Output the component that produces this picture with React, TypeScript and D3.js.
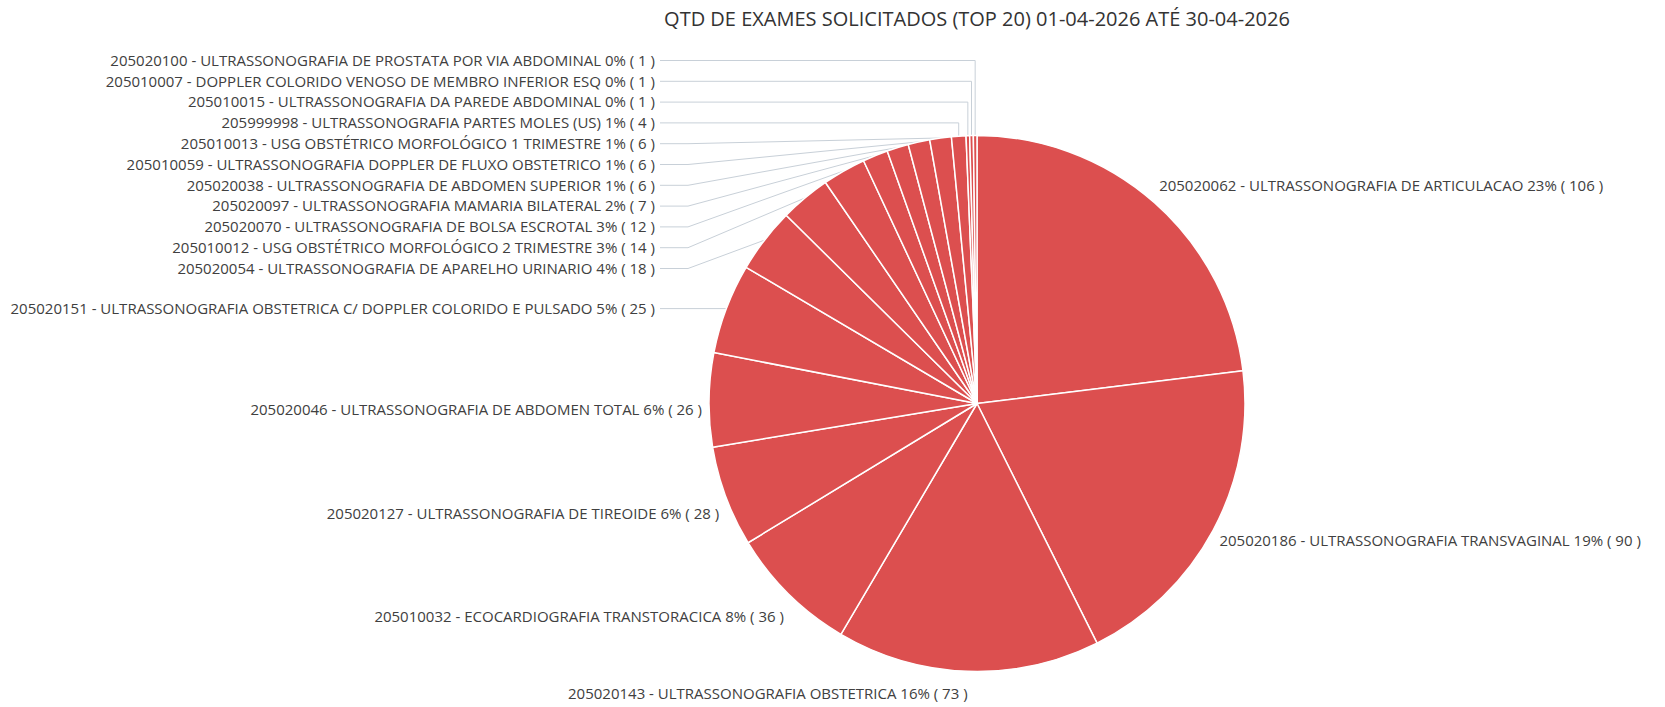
import React from 'react';
import * as d3 from 'd3';

const codes = [
  '205020062', '205020186', '205020143', '205010032', '205020127', '205020046',
  '205020151', '205020054', '205010012', '205020070', '205020097', '205020038',
  '205010059', '205010013', '205999998', '205010015', '205010007', '205020100',
];
const names = [
  'ULTRASSONOGRAFIA DE ARTICULACAO',
  'ULTRASSONOGRAFIA TRANSVAGINAL',
  'ULTRASSONOGRAFIA OBSTETRICA',
  'ECOCARDIOGRAFIA TRANSTORACICA',
  'ULTRASSONOGRAFIA DE TIREOIDE',
  'ULTRASSONOGRAFIA DE ABDOMEN TOTAL',
  'ULTRASSONOGRAFIA OBSTETRICA C/ DOPPLER COLORIDO E PULSADO',
  'ULTRASSONOGRAFIA DE APARELHO URINARIO',
  'USG OBSTÉTRICO MORFOLÓGICO 2 TRIMESTRE',
  'ULTRASSONOGRAFIA DE BOLSA ESCROTAL',
  'ULTRASSONOGRAFIA MAMARIA BILATERAL',
  'ULTRASSONOGRAFIA DE ABDOMEN SUPERIOR',
  'ULTRASSONOGRAFIA DOPPLER DE FLUXO OBSTETRICO',
  'USG OBSTÉTRICO MORFOLÓGICO 1 TRIMESTRE',
  'ULTRASSONOGRAFIA PARTES MOLES (US)',
  'ULTRASSONOGRAFIA DA PAREDE ABDOMINAL',
  'DOPPLER COLORIDO VENOSO DE MEMBRO INFERIOR ESQ',
  'ULTRASSONOGRAFIA DE PROSTATA POR VIA ABDOMINAL',
];
const values = [106, 90, 73, 36, 28, 26, 25, 18, 14, 12, 7, 6, 6, 6, 4, 1, 1, 1];
const percents = [23, 19, 16, 8, 6, 6, 5, 4, 3, 3, 2, 1, 1, 1, 1, 0, 0, 0];

const TITLE = 'QTD DE EXAMES SOLICITADOS (TOP 20) 01-04-2026 ATÉ 30-04-2026';

const W = 1665;
const H = 707;
const cx = 977;
const cy = 403.5;
const R = 268;
const FONT = '"Open Sans", "Noto Sans", sans-serif';
const LABEL_SIZE = 15;
const SPACING = 20.8;
const TOP = 60.5;
const COL_X = cx - R - 54;

type Item = {
  i: number;
  text: string;
  mid: number;
  px: number;
  py: number;
  x: number;
  y: number;
  anchor: 'start' | 'end';
  column: boolean;
};

export default function App() {
  const total = d3.sum(values);
  const arcs = d3.pie<number>().sort(null).value((d) => d)(values);
  const arcGen = d3.arc<d3.PieArcDatum<number>>().innerRadius(0).outerRadius(R);

  const items: Item[] = arcs.map((a, i) => {
    const mid = (a.startAngle + a.endAngle) / 2;
    const s = Math.sin(mid);
    const c = Math.cos(mid);
    const px = cx + R * s;
    const py = cy - R * c;
    const left = s < 0;
    const column = left && values[i] / total < 0.055;
    const x = column ? COL_X : cx + 275 * s;
    const y = column ? py : cy - 290 * c + (left ? 10 * Math.abs(s) : 0);
    return {
      i,
      text: `${codes[i]} - ${names[i]} ${percents[i]}% ( ${values[i]} )`,
      mid,
      px,
      py,
      x,
      y,
      anchor: left ? 'end' : 'start',
      column,
    };
  });

  // resolve overlaps on the left side
  const leftItems = items.filter((d) => d.anchor === 'end').sort((a, b) => a.y - b.y || b.mid - a.mid);
  for (let k = leftItems.length - 2; k >= 0; k--) {
    leftItems[k].y = Math.min(leftItems[k].y, leftItems[k + 1].y - SPACING);
  }
  leftItems[0].y = Math.max(leftItems[0].y, TOP);
  for (let k = 1; k < leftItems.length; k++) {
    leftItems[k].y = Math.max(leftItems[k].y, leftItems[k - 1].y + SPACING);
  }

  const connector = (d: Item) => {
    const x0 = d.x + 5;
    const x1 = d.x + 33;
    if (d.y < d.py - 1 && d.px > x1) {
      return `M${x0},${d.y}L${d.px},${d.y}L${d.px},${d.py}`;
    }
    return `M${x0},${d.y}L${x1},${d.y}L${d.px},${d.py}`;
  };

  return (
    <svg
      width={W}
      height={H}
      style={{ position: 'absolute', left: 0, top: 0, background: '#fff' }}
      fontFamily={FONT}
    >
      <text x={cx} y={26} textAnchor="middle" fontSize={20} fill="#333">
        {TITLE}
      </text>
      <g>
        {items
          .filter((d) => d.column)
          .map((d) => (
            <path key={`c${d.i}`} d={connector(d)} fill="none" stroke="#c8d0d8" strokeWidth={1} />
          ))}
      </g>
      <g transform={`translate(${cx},${cy})`}>
        {arcs.map((a, i) => (
          <path key={i} d={arcGen(a) || ''} fill="#dc4f4f" stroke="#fff" strokeWidth={1.5} strokeLinejoin="round" />
        ))}
      </g>
      <g fontSize={LABEL_SIZE} fill="#404040">
        {items.map((d) => (
          <text key={`t${d.i}`} x={d.x} y={d.y} dy="0.35em" textAnchor={d.anchor}>
            {d.text}
          </text>
        ))}
      </g>
    </svg>
  );
}
